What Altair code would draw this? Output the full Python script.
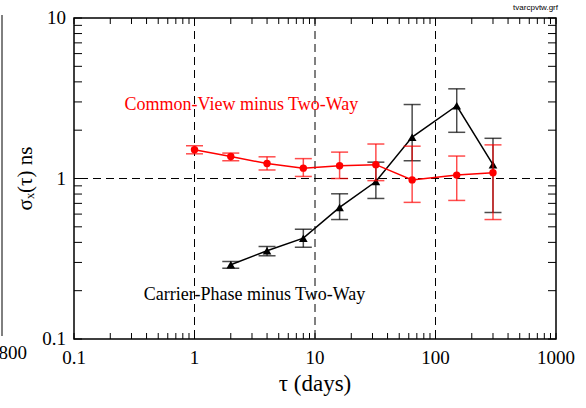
import altair as alt
import pandas as pd

# Common-View minus Two-Way (red)
tau_cv = [1, 2, 4, 8, 16, 32, 64, 150, 300]
cv = [1.51, 1.37, 1.24, 1.16, 1.20, 1.22, 0.98, 1.05, 1.085]
cv_hi = [1.60, 1.44, 1.365, 1.33, 1.46, 1.64, 1.59, 1.38, 1.62]
cv_lo = [1.425, 1.29, 1.13, 1.03, 1.00, 0.97, 0.71, 0.73, 0.555]

# Carrier-Phase minus Two-Way (black)
tau_cp = [2, 4, 8, 16, 32, 64, 150, 300]
cp = [0.29, 0.355, 0.425, 0.66, 0.957, 1.81, 2.84, 1.22]
cp_hi = [0.304, 0.377, 0.483, 0.803, 1.264, 2.89, 3.62, 1.78]
cp_lo = [0.276, 0.33, 0.373, 0.555, 0.751, 1.29, 1.94, 0.614]

# annotations
ann_text = ["Common-View minus Two-Way", "Carrier-Phase minus Two-Way"]
ann_x = [2.45, 3.15]
ann_y = [2.89, 0.1886]
ann_color = ["#ff0000", "#000000"]

# tick values and labels
x_major = [0.1, 1, 10, 100, 1000]
x_major_lab = ["0.1", "1", "10", "100", "1000"]
y_major = [0.1, 1, 10]
y_major_lab = ["0.1", "1", "10"]
x_grid = [1, 10, 100]
y_grid = [1]
x_ticks = [m * d for d in [0.1, 1, 10, 100] for m in range(1, 10)] + [1000]
y_ticks = [m * d for d in [0.1, 1] for m in range(1, 10)] + [10]

W, H = 482, 321
FONT = "Liberation Serif"
XT, YT = 6, 8  # inward tick lengths in pixels

xscale = alt.Scale(type="log", domain=[0.1, 1000], nice=False)
yscale = alt.Scale(type="log", domain=[0.1, 10], nice=False)

df_cv = pd.DataFrame({"tau": tau_cv, "v": cv, "hi": cv_hi, "lo": cv_lo})
df_cp = pd.DataFrame({"tau": tau_cp, "v": cp, "hi": cp_hi, "lo": cp_lo})
df_ann = pd.DataFrame({"tau": ann_x, "v": ann_y, "label": ann_text, "c": ann_color})
df_xt = pd.DataFrame({"tau": x_ticks})
df_yt = pd.DataFrame({"v": y_ticks})
df_xl = pd.DataFrame({"tau": x_major, "lab": x_major_lab})
df_yl = pd.DataFrame({"v": y_major, "lab": y_major_lab})
df_xg = pd.DataFrame({"tau": x_grid})
df_yg = pd.DataFrame({"v": y_grid})
one = pd.DataFrame({"k": [0]})

X = alt.X("tau:Q", scale=xscale, axis=None)
Y = alt.Y("v:Q", scale=yscale, axis=None)

layers = []

# dashed guide lines at the decades
layers += [
    alt.Chart(df_xg).mark_rule(color="black", strokeWidth=1, strokeDash=[8, 5]).encode(x=X),
    alt.Chart(df_yg).mark_rule(color="black", strokeWidth=1, strokeDash=[8, 5]).encode(y=Y),
]

# inward ticks on all four sides, placed through the scales
tstyle = dict(color="black", strokeWidth=1)
layers += [
    alt.Chart(df_xt).mark_rule(**tstyle).encode(x=X, y=alt.value(H - XT), y2=alt.value(H)),
    alt.Chart(df_xt).mark_rule(**tstyle).encode(x=X, y=alt.value(0), y2=alt.value(XT)),
    alt.Chart(df_yt).mark_rule(**tstyle).encode(y=Y, x=alt.value(0), x2=alt.value(YT)),
    alt.Chart(df_yt).mark_rule(**tstyle).encode(y=Y, x=alt.value(W - YT), x2=alt.value(W)),
]

# tick labels and axis titles
layers += [
    alt.Chart(df_xl).mark_text(font=FONT, fontSize=19, baseline="top", align="center",
                               color="black").encode(x=X, y=alt.value(H + 10), text="lab:N"),
    alt.Chart(df_yl).mark_text(font=FONT, fontSize=19, baseline="middle", align="right",
                               color="black").encode(y=Y, x=alt.value(-8), text="lab:N"),
    alt.Chart(one).mark_text(font=FONT, fontSize=23, baseline="middle", align="center",
                             color="black").encode(
        x=alt.value(W / 2), y=alt.value(H + 45), text=alt.value("τ (days)")),
    alt.Chart(one).mark_text(font=FONT, fontSize=21, baseline="middle", align="center",
                             angle=270, color="black").encode(
        x=alt.value(-48), y=alt.value(H / 2), text=alt.value("σₓ(τ) ns")),
]


def series(df, color, shape, size):
    rule = alt.Chart(df).mark_rule(color=color, strokeWidth=1.5, opacity=0.7).encode(
        x=X, y=alt.Y("lo:Q", scale=yscale, axis=None), y2="hi:Q")
    cap_hi = alt.Chart(df).mark_tick(color=color, orient="horizontal", size=17,
                                     thickness=1.5, opacity=0.7).encode(
        x=X, y=alt.Y("hi:Q", scale=yscale, axis=None))
    cap_lo = alt.Chart(df).mark_tick(color=color, orient="horizontal", size=17,
                                     thickness=1.5, opacity=0.7).encode(
        x=X, y=alt.Y("lo:Q", scale=yscale, axis=None))
    line = alt.Chart(df).mark_line(color=color, strokeWidth=1.5).encode(x=X, y=Y)
    pts = alt.Chart(df).mark_point(color=color, filled=True, opacity=1, shape=shape,
                                   size=size).encode(x=X, y=Y)
    return [rule, cap_hi, cap_lo, line, pts]


layers += series(df_cp, "#000000", "triangle-up", 75)
layers += series(df_cv, "#ff0000", "circle", 55)

layers.append(
    alt.Chart(df_ann).mark_text(font=FONT, fontSize=18, align="center",
                                baseline="middle").encode(
        x=X, y=Y, text="label:N", color=alt.Color("c:N", scale=None))
)

# clipped neighbouring figure at far left and file tag at top right
layers.append(alt.Chart(one).mark_rule(color="black", strokeWidth=1).encode(
    x=alt.value(-72), y=alt.value(-3), y2=alt.value(318)))
layers.append(alt.Chart(one).mark_text(font=FONT, fontSize=19, align="right",
                                       baseline="middle", color="black").encode(
    x=alt.value(-47), y=alt.value(335), text=alt.value("800")))
layers.append(alt.Chart(one).mark_text(font="Liberation Sans", fontSize=8, align="right",
                                       baseline="middle", color="black").encode(
    x=alt.value(484), y=alt.value(-10), text=alt.value("tvarcpvtw.grf")))

chart = alt.layer(*layers).properties(
    width=W, height=H,
    autosize=alt.AutoSizeParams(type="none"),
    padding={"left": 74, "top": 18, "right": 30, "bottom": 69},
    background="white",
).configure_view(stroke="black", strokeWidth=1.5)

chart.save("out.html", embed_options={"renderer": "svg", "actions": False})
